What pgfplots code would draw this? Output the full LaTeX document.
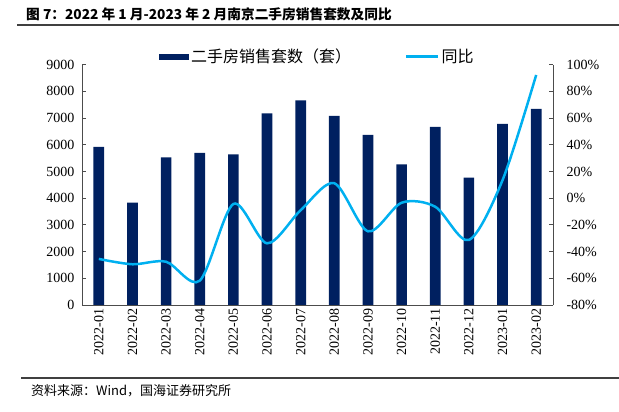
\documentclass[border=0pt]{standalone}
\usepackage{pgfplots}
\pgfplotsset{compat=1.18}
\usepackage{fontspec}
\setmainfont{Liberation Serif}
\newfontfamily\cjk{Noto Sans CJK SC}
\definecolor{barblue}{RGB}{0,32,96}
\definecolor{lineblue}{RGB}{0,176,240}

\pgfplotstableread{
idx sales yoy
1  5920 -45.5
2  3830 -49.5
3  5530 -47.6
4  5700 -61.8
5  5640 -4.3
6  7180 -33.8
7  7660 -9.0
8  7080 11.2
9  6370 -24.8
10 5270 -3.4
11 6670 -6.4
12 4770 -31.3
13 6780 13.5
14 7350 92.3
}\datatable

\begin{document}
\begin{tikzpicture}
\path[use as bounding box] (0pt,0pt) rectangle (619pt,412pt);

% title and source
\node[anchor=west, inner sep=0pt, font=\cjk\bfseries\fontsize{13.7}{16}\selectfont]
  at (26pt,398pt) {图 7：2022 年 1 月-2023 年 2 月南京二手房销售套数及同比};
\draw[line width=1.4pt, black!75] (17pt,387pt) -- (619pt,387pt);
\draw[line width=1.2pt, black!75] (21pt,34pt) -- (619pt,34pt);
\node[anchor=west, inner sep=0pt, font=\cjk\fontsize{13}{15}\selectfont]
  at (31pt,21pt) {资料来源：Wind，国海证券研究所};

% bars, left axis
\begin{axis}[
    at={(82pt,107pt)}, anchor=south west,
    scale only axis, width=471pt, height=240.3pt,
    xmin=0.5, xmax=14.5, ymin=0, ymax=9000,
    axis x line*=bottom, axis y line*=left,
    xtick={1,...,14},
    xticklabels={2022-01,2022-02,2022-03,2022-04,2022-05,2022-06,2022-07,
      2022-08,2022-09,2022-10,2022-11,2022-12,2023-01,2023-02},
    x tick label style={rotate=90, anchor=east, font=\fontsize{14}{16}\selectfont},
    major x tick style={draw=none},
    ytick={0,1000,...,9000},
    y tick label style={font=\fontsize{14}{16}\selectfont, xshift=-4pt},
    /pgf/number format/1000 sep={},
    /pgf/number format/assume math mode=true,
    tick align=inside, major tick length=4pt,
    tick style={black!70, line width=0.8pt},
    axis line style={black!70, line width=0.8pt},
    legend style={draw=none, at={(0.5,1)}, anchor=center, yshift=8pt,
      font=\cjk\fontsize{16}{18}\selectfont, inner sep=0pt},
    legend columns=2,
    /tikz/every even column/.append style={column sep=52pt},
  ]
  \addplot[ybar, bar width=10.7pt, fill=barblue, draw=none,
    legend image code/.code={\fill[barblue] (0pt,-3pt) rectangle (30pt,3pt);}]
    table[x=idx, y=sales] {\datatable};
  \addlegendentry{二手房销售套数（套）}
  \addlegendimage{lineblue, line width=2.5pt,
    legend image code/.code={\draw[lineblue, line width=2.5pt] (0pt,0pt) -- (32pt,0pt);}}
  \addlegendentry{同比}
\end{axis}

% yoy line, right axis
\begin{axis}[
    at={(82pt,107pt)}, anchor=south west,
    scale only axis, width=471pt, height=240.3pt,
    xmin=0.5, xmax=14.5, ymin=-80, ymax=100,
    axis x line=none, axis y line*=right,
    ytick={-80,-60,...,100},
    yticklabel={\pgfmathprintnumber{\tick}\%},
    y tick label style={font=\fontsize{14}{16}\selectfont, xshift=10pt},
    /pgf/number format/assume math mode=true,
    tick align=inside, major tick length=4pt,
    tick style={black!70, line width=0.8pt},
    axis line style={black!70, line width=0.8pt},
  ]
  \addplot[lineblue, line width=2.5pt, smooth, tension=0.5]
    table[x=idx, y=yoy] {\datatable};
\end{axis}
\end{tikzpicture}
\end{document}
